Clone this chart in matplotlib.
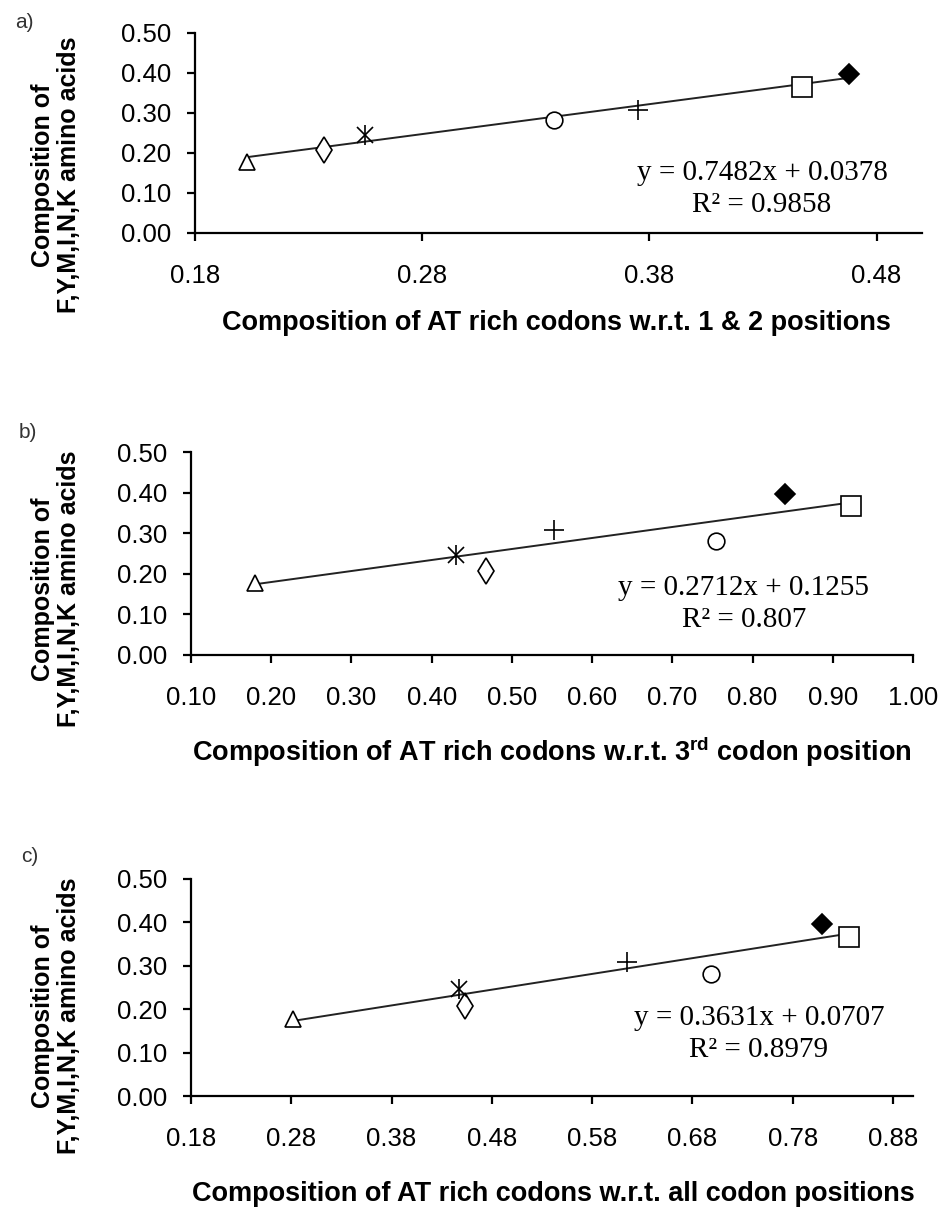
import numpy as np
import matplotlib
matplotlib.use('Agg')
import matplotlib.pyplot as plt

plt.rcParams['font.family'] = ['Liberation Sans', 'DejaVu Sans']
plt.rcParams['mathtext.fontset'] = 'custom'
plt.rcParams['mathtext.rm'] = 'Liberation Sans'
plt.rcParams['mathtext.bf'] = 'Liberation Sans:bold'

# shared y values: composition of F,Y,M,I,N,K amino acids
# order of points: triangle, open diamond, asterisk, circle, plus, square, filled diamond
amino_comp = [0.178, 0.208, 0.246, 0.282, 0.308, 0.366, 0.397]

# x values per panel
at_pos12 = [0.203, 0.237, 0.255, 0.338, 0.375, 0.447, 0.468]
at_pos3 = [0.180, 0.468, 0.430, 0.754, 0.553, 0.923, 0.840]
at_all = [0.282, 0.453, 0.447, 0.699, 0.615, 0.836, 0.809]

# trend line coefficients (slope, intercept, r2) as printed
fit_a = (0.7482, 0.0378, 0.9858)
fit_b = (0.2712, 0.1255, 0.807)
fit_c = (0.3631, 0.0707, 0.8979)

xticks_a = [0.18, 0.28, 0.38, 0.48]
xticks_b = [0.10, 0.20, 0.30, 0.40, 0.50, 0.60, 0.70, 0.80, 0.90, 1.00]
xticks_c = [0.18, 0.28, 0.38, 0.48, 0.58, 0.68, 0.78, 0.88]
yticks = [0.0, 0.1, 0.2, 0.3, 0.4, 0.5]

W, H = 944, 1209
fig = plt.figure(figsize=(W / 100, H / 100), dpi=100)


def px_axes(left, right, top, bottom):
    return fig.add_axes([left / W, 1 - bottom / H, (right - left) / W, (bottom - top) / H])


def draw_points(ax, xs):
    mk = dict(color='black', linestyle='none', markeredgewidth=1.2)
    ax.plot(xs[0], amino_comp[0], marker='^', markersize=12, markerfacecolor='white', **mk)
    ax.plot(xs[1], amino_comp[1], marker='d', markersize=13, markerfacecolor='white', **mk)
    ax.plot(xs[2], amino_comp[2], marker='x', markersize=11, **mk)
    ax.plot(xs[2], amino_comp[2], marker='|', markersize=15, **mk)
    ax.plot(xs[3], amino_comp[3], marker='o', markersize=12, markerfacecolor='white', **mk)
    ax.plot(xs[4], amino_comp[4], marker='+', markersize=15, **mk)
    ax.plot(xs[5], amino_comp[5], marker='s', markersize=14, markerfacecolor='white', **mk)
    ax.plot(xs[6], amino_comp[6], marker='D', markersize=10, markerfacecolor='black', **mk)


def style_axes(ax, xticks, xlim):
    ax.set_xlim(*xlim)
    ax.set_ylim(0, 0.5)
    ax.set_xticks(xticks)
    ax.set_xticklabels(['%.2f' % t for t in xticks])
    ax.set_yticks(yticks)
    ax.set_yticklabels(['%.2f' % t for t in yticks])
    ax.spines['top'].set_visible(False)
    ax.spines['right'].set_visible(False)
    ax.spines['left'].set_linewidth(1.6)
    ax.spines['bottom'].set_linewidth(1.6)
    ax.tick_params(axis='both', direction='out', length=6, width=1.6, labelsize=18.5, colors='black')
    ax.tick_params(axis='x', pad=16)
    ax.tick_params(axis='y', pad=11)


def panel(box, xs, fit, xticks, xlim, xlabel, xlab_pos, ylab_y, eq_pos, tag, tag_pos):
    ax = px_axes(*box)
    slope, icpt, r2 = fit
    line_x = np.array([min(xs), max(xs)])
    ax.plot(line_x, slope * line_x + icpt, color='#222222', lw=1.4, zorder=1)
    draw_points(ax, xs)
    style_axes(ax, xticks, xlim)
    ax.patch.set_alpha(0)

    fig.text(xlab_pos[0] / W, 1 - xlab_pos[1] / H, xlabel, ha='center', va='center',
             fontsize=19.5, fontweight='bold')
    fig.text(56 / W, 1 - ylab_y / H, 'Composition of\nF,Y,M,I,N,K amino acids',
             ha='center', va='center', rotation=90, fontsize=18, fontweight='bold',
             linespacing=1.15)
    fig.text(eq_pos[0] / W, 1 - eq_pos[1] / H, 'y = %.4fx + %.4f' % (slope, icpt),
             ha='center', va='center', fontsize=21, family='Liberation Serif')
    fig.text(eq_pos[0] / W, 1 - (eq_pos[1] + 32) / H, 'R² = %s' % r2,
             ha='center', va='center', fontsize=21, family='Liberation Serif')
    fig.text(tag_pos[0] / W, 1 - tag_pos[1] / H, tag, ha='center', va='center',
             fontsize=15, color='#333333')


panel((195, 922, 33, 233), at_pos12, fit_a, xticks_a, (0.18, 0.50),
      'Composition of AT rich codons w.r.t. 1 & 2 positions', (556, 323), 175,
      (762, 173), 'a)', (24, 22))

panel((191, 913, 452, 655), at_pos3, fit_b, xticks_b, (0.10, 1.00),
      r'Composition of AT rich codons w.r.t. 3$^{\mathbf{rd}}$ codon position', (552, 752), 589,
      (744, 588), 'b)', (28, 432))

panel((191, 913, 879, 1096), at_all, fit_c, xticks_c, (0.18, 0.90),
      'Composition of AT rich codons w.r.t. all codon positions', (553, 1194), 1016,
      (759, 1018), 'c)', (30, 857))

fig.savefig('out.png', dpi=100)
